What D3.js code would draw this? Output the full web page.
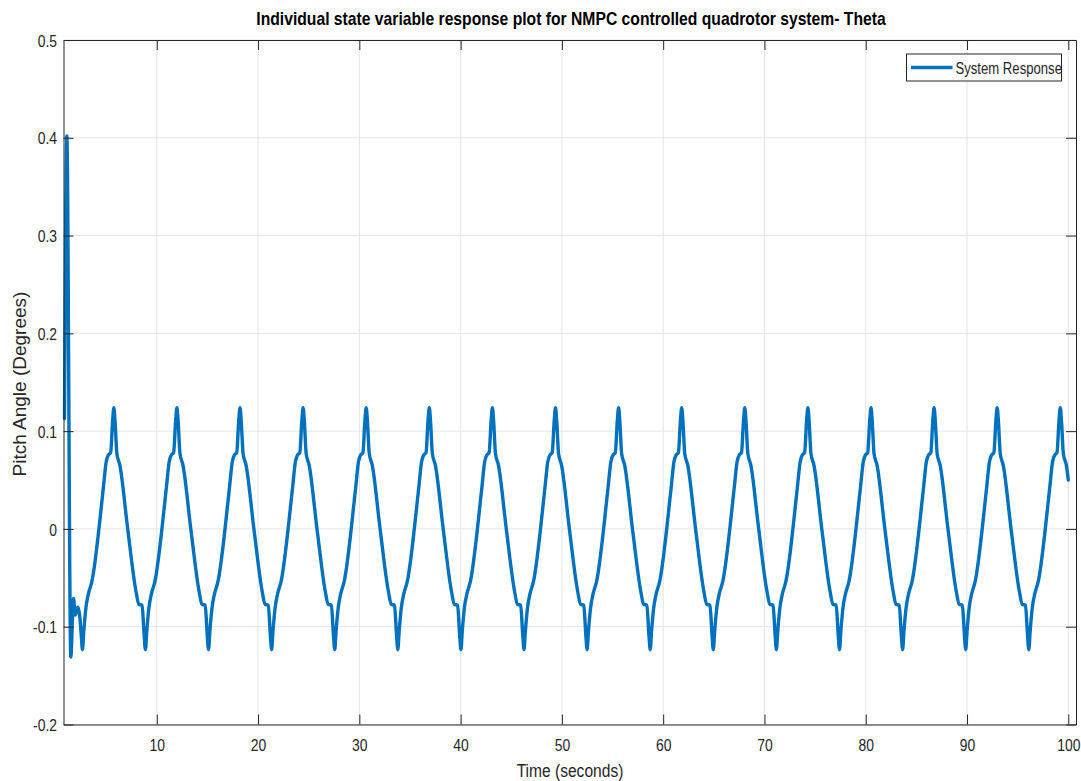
<!DOCTYPE html>
<html>
<head>
<meta charset="utf-8">
<script src="https://cdn.jsdelivr.net/npm/d3@7"></script>
<style>
  html, body { margin: 0; padding: 0; background: #ffffff; }
  svg { display: block; }
  text { font-family: "Liberation Sans", Arial, Helvetica, sans-serif; fill: #262626; }
</style>
</head>
<body>
<svg id="chart" width="1081" height="781"></svg>
<script>
// Pitch angle (theta) of the NMPC-controlled quadrotor, sampled at the listed times.
// One row per oscillation cycle (peak -> just before next peak); first row is the start-up transient.
const timeSec = [
  0.89, 1.12, 1.51, 1.78, 1.95, 2.20, 2.38, 2.54, 2.66, 2.79, 3.00, 3.26, 3.59, 4.72, 5.01, 5.25, 5.44, 5.65,
  5.76, 5.88, 6.06, 6.36, 7.13, 7.95, 8.23, 8.55, 8.75, 8.88, 9.01, 9.22, 9.48, 9.81, 10.94, 11.23, 11.47, 11.66, 11.87,
  11.99, 12.11, 12.29, 12.59, 13.36, 14.18, 14.46, 14.78, 14.98, 15.11, 15.24, 15.45, 15.71, 16.04, 17.17, 17.46, 17.70, 17.89, 18.10,
  18.22, 18.34, 18.52, 18.82, 19.59, 20.41, 20.69, 21.01, 21.21, 21.34, 21.47, 21.68, 21.94, 22.27, 23.40, 23.69, 23.93, 24.12, 24.33,
  24.45, 24.57, 24.75, 25.05, 25.82, 26.64, 26.92, 27.24, 27.44, 27.57, 27.70, 27.91, 28.17, 28.50, 29.63, 29.92, 30.16, 30.35, 30.56,
  30.68, 30.80, 30.98, 31.28, 32.05, 32.87, 33.15, 33.47, 33.67, 33.80, 33.93, 34.14, 34.40, 34.73, 35.86, 36.15, 36.39, 36.58, 36.79,
  36.91, 37.03, 37.21, 37.51, 38.28, 39.10, 39.38, 39.70, 39.90, 40.03, 40.16, 40.37, 40.63, 40.96, 42.09, 42.38, 42.62, 42.81, 43.02,
  43.14, 43.26, 43.44, 43.74, 44.51, 45.33, 45.61, 45.93, 46.13, 46.26, 46.39, 46.60, 46.86, 47.19, 48.32, 48.61, 48.85, 49.04, 49.25,
  49.37, 49.49, 49.67, 49.97, 50.74, 51.56, 51.84, 52.16, 52.36, 52.49, 52.62, 52.83, 53.09, 53.42, 54.55, 54.84, 55.08, 55.27, 55.48,
  55.60, 55.72, 55.90, 56.20, 56.97, 57.79, 58.07, 58.39, 58.59, 58.72, 58.85, 59.06, 59.32, 59.65, 60.78, 61.07, 61.31, 61.50, 61.71,
  61.83, 61.95, 62.13, 62.43, 63.20, 64.02, 64.30, 64.62, 64.82, 64.95, 65.08, 65.29, 65.55, 65.88, 67.01, 67.30, 67.54, 67.73, 67.94,
  68.06, 68.18, 68.36, 68.66, 69.43, 70.25, 70.53, 70.85, 71.05, 71.18, 71.31, 71.52, 71.78, 72.11, 73.24, 73.53, 73.77, 73.96, 74.17,
  74.29, 74.41, 74.59, 74.89, 75.66, 76.48, 76.76, 77.08, 77.28, 77.41, 77.54, 77.75, 78.01, 78.34, 79.47, 79.76, 80.00, 80.19, 80.40,
  80.52, 80.64, 80.82, 81.12, 81.89, 82.71, 82.99, 83.31, 83.51, 83.64, 83.77, 83.98, 84.24, 84.57, 85.70, 85.99, 86.23, 86.42, 86.63,
  86.75, 86.87, 87.05, 87.35, 88.12, 88.94, 89.22, 89.54, 89.74, 89.87, 90.00, 90.21, 90.47, 90.80, 91.93, 92.22, 92.46, 92.65, 92.86,
  92.98, 93.10, 93.28, 93.58, 94.35, 95.17, 95.45, 95.77, 95.97, 96.10, 96.23, 96.44, 96.70, 97.03, 98.16, 98.45, 98.69, 98.88, 99.09,
  99.21, 99.33, 99.51, 99.81, 100.00
];

const pitchDeg = [
  0.113, 0.402, -0.131, -0.071, -0.088, -0.080, -0.088, -0.108, -0.1235, -0.105, -0.081, -0.066, -0.054, 0.0415, 0.069, 0.076, 0.078, 0.112,
  0.124, 0.110, 0.077, 0.065, 0.000, -0.064, -0.077, -0.078, -0.108, -0.1235, -0.105, -0.081, -0.066, -0.054, 0.0415, 0.069, 0.076, 0.078, 0.112,
  0.124, 0.110, 0.077, 0.065, 0.000, -0.064, -0.077, -0.078, -0.108, -0.1235, -0.105, -0.081, -0.066, -0.054, 0.0415, 0.069, 0.076, 0.078, 0.112,
  0.124, 0.110, 0.077, 0.065, 0.000, -0.064, -0.077, -0.078, -0.108, -0.1235, -0.105, -0.081, -0.066, -0.054, 0.0415, 0.069, 0.076, 0.078, 0.112,
  0.124, 0.110, 0.077, 0.065, 0.000, -0.064, -0.077, -0.078, -0.108, -0.1235, -0.105, -0.081, -0.066, -0.054, 0.0415, 0.069, 0.076, 0.078, 0.112,
  0.124, 0.110, 0.077, 0.065, 0.000, -0.064, -0.077, -0.078, -0.108, -0.1235, -0.105, -0.081, -0.066, -0.054, 0.0415, 0.069, 0.076, 0.078, 0.112,
  0.124, 0.110, 0.077, 0.065, 0.000, -0.064, -0.077, -0.078, -0.108, -0.1235, -0.105, -0.081, -0.066, -0.054, 0.0415, 0.069, 0.076, 0.078, 0.112,
  0.124, 0.110, 0.077, 0.065, 0.000, -0.064, -0.077, -0.078, -0.108, -0.1235, -0.105, -0.081, -0.066, -0.054, 0.0415, 0.069, 0.076, 0.078, 0.112,
  0.124, 0.110, 0.077, 0.065, 0.000, -0.064, -0.077, -0.078, -0.108, -0.1235, -0.105, -0.081, -0.066, -0.054, 0.0415, 0.069, 0.076, 0.078, 0.112,
  0.124, 0.110, 0.077, 0.065, 0.000, -0.064, -0.077, -0.078, -0.108, -0.1235, -0.105, -0.081, -0.066, -0.054, 0.0415, 0.069, 0.076, 0.078, 0.112,
  0.124, 0.110, 0.077, 0.065, 0.000, -0.064, -0.077, -0.078, -0.108, -0.1235, -0.105, -0.081, -0.066, -0.054, 0.0415, 0.069, 0.076, 0.078, 0.112,
  0.124, 0.110, 0.077, 0.065, 0.000, -0.064, -0.077, -0.078, -0.108, -0.1235, -0.105, -0.081, -0.066, -0.054, 0.0415, 0.069, 0.076, 0.078, 0.112,
  0.124, 0.110, 0.077, 0.065, 0.000, -0.064, -0.077, -0.078, -0.108, -0.1235, -0.105, -0.081, -0.066, -0.054, 0.0415, 0.069, 0.076, 0.078, 0.112,
  0.124, 0.110, 0.077, 0.065, 0.000, -0.064, -0.077, -0.078, -0.108, -0.1235, -0.105, -0.081, -0.066, -0.054, 0.0415, 0.069, 0.076, 0.078, 0.112,
  0.124, 0.110, 0.077, 0.065, 0.000, -0.064, -0.077, -0.078, -0.108, -0.1235, -0.105, -0.081, -0.066, -0.054, 0.0415, 0.069, 0.076, 0.078, 0.112,
  0.124, 0.110, 0.077, 0.065, 0.000, -0.064, -0.077, -0.078, -0.108, -0.1235, -0.105, -0.081, -0.066, -0.054, 0.0415, 0.069, 0.076, 0.078, 0.112,
  0.124, 0.110, 0.077, 0.065, 0.050
];

const xTicks = [10, 20, 30, 40, 50, 60, 70, 80, 90, 100];
const yTicks = [-0.2, -0.1, 0, 0.1, 0.2, 0.3, 0.4, 0.5];
const xDomain = [0.79, 100.76];
const yDomain = [-0.2, 0.5];

const titleText = "Individual state variable response plot for NMPC controlled quadrotor system- Theta";
const xLabel = "Time (seconds)";
const yLabel = "Pitch Angle (Degrees)";
const seriesName = "System Response";

// ---- layout & style ----
const plot = { left: 63.5, right: 1076, top: 40, bottom: 724.5 };
const lineColor = "#0072BD";
const axisColor = "#262626";
const gridColor = "#e4e4e4";
const squeeze = 0.82;          // horizontal condensing of the Helvetica-style text
const tickLen = 10;
const lineWidth = 3.4;

const svg = d3.select("#chart");

const x = d3.scaleLinear().domain(xDomain).range([plot.left, plot.right]);
const y = d3.scaleLinear().domain(yDomain).range([plot.bottom, plot.top]);

// grid
const grid = svg.append("g");
grid.selectAll("line.gx").data(xTicks).join("line")
  .attr("x1", d => x(d)).attr("x2", d => x(d))
  .attr("y1", plot.top).attr("y2", plot.bottom)
  .attr("stroke", gridColor).attr("stroke-width", 1);
grid.selectAll("line.gy").data(yTicks).join("line")
  .attr("x1", plot.left).attr("x2", plot.right)
  .attr("y1", d => y(d)).attr("y2", d => y(d))
  .attr("stroke", gridColor).attr("stroke-width", 1);

// data line
const data = timeSec.map((t, i) => ({ t, v: pitchDeg[i] }));
const line = d3.line().x(d => x(d.t)).y(d => y(d.v)).curve(d3.curveMonotoneX);
svg.append("path").datum(data)
  .attr("d", line)
  .attr("fill", "none")
  .attr("stroke", lineColor)
  .attr("stroke-width", lineWidth)
  .attr("stroke-linejoin", "round")
  .attr("stroke-linecap", "round");

// axes (ticks pointing inward on all four sides)
function styleAxis(g) {
  g.select(".domain").attr("stroke", axisColor).attr("stroke-width", 1);
  g.selectAll(".tick line").attr("stroke", axisColor).attr("stroke-width", 1);
}

const xAxis = svg.append("g").attr("transform", `translate(0,${plot.bottom})`)
  .call(d3.axisBottom(x).tickValues(xTicks).tickSize(-tickLen).tickSizeOuter(0).tickPadding(18).tickFormat(d => String(d)));
styleAxis(xAxis);
xAxis.selectAll(".tick text")
  .attr("font-size", 17).attr("font-family", null)
  .style("fill", axisColor)
  .attr("dy", 0).attr("y", 27)
  .attr("transform", `scale(${squeeze},1)`);

const yAxis = svg.append("g").attr("transform", `translate(${plot.left},0)`)
  .call(d3.axisLeft(y).tickValues(yTicks).tickSize(-tickLen).tickSizeOuter(0).tickFormat(d => String(d)));
styleAxis(yAxis);
yAxis.selectAll(".tick text")
  .attr("font-size", 17).attr("font-family", null)
  .style("fill", axisColor)
  .attr("x", -6.5 / squeeze).attr("dy", "0.36em")
  .attr("transform", `scale(${squeeze},1)`);

const topAxis = svg.append("g").attr("transform", `translate(0,${plot.top})`)
  .call(d3.axisTop(x).tickValues(xTicks).tickSize(-tickLen).tickSizeOuter(0).tickFormat(""));
styleAxis(topAxis);

const rightAxis = svg.append("g").attr("transform", `translate(${plot.right},0)`)
  .call(d3.axisRight(y).tickValues(yTicks).tickSize(-tickLen).tickSizeOuter(0).tickFormat(""));
styleAxis(rightAxis);

// title
const title = svg.append("text")
  .attr("text-anchor", "middle")
  .attr("font-size", 18).attr("font-weight", "bold")
  .style("fill", "#000")
  .text(titleText);
const titleW = title.node().getComputedTextLength();
title.attr("transform", `translate(571,25) scale(${630 / titleW},1)`);

// axis labels
svg.append("text")
  .attr("text-anchor", "middle")
  .attr("font-size", 19)
  .attr("transform", `translate(570,777) scale(${squeeze},1)`)
  .text(xLabel);

svg.append("text")
  .attr("text-anchor", "middle")
  .attr("font-size", 19)
  .attr("transform", "translate(25.5,384) rotate(-90)")
  .text(yLabel);

// legend
const legend = svg.append("g").attr("transform", "translate(906.5,54)");
legend.append("rect")
  .attr("width", 155).attr("height", 27)
  .attr("fill", "#fff").attr("stroke", axisColor).attr("stroke-width", 1);
legend.append("line")
  .attr("x1", 4.5).attr("x2", 46).attr("y1", 13.5).attr("y2", 13.5)
  .attr("stroke", lineColor).attr("stroke-width", lineWidth);
legend.append("text")
  .attr("font-size", 16)
  .attr("transform", `translate(49,19.5) scale(${squeeze},1)`)
  .text(seriesName);
</script>
</body>
</html>
